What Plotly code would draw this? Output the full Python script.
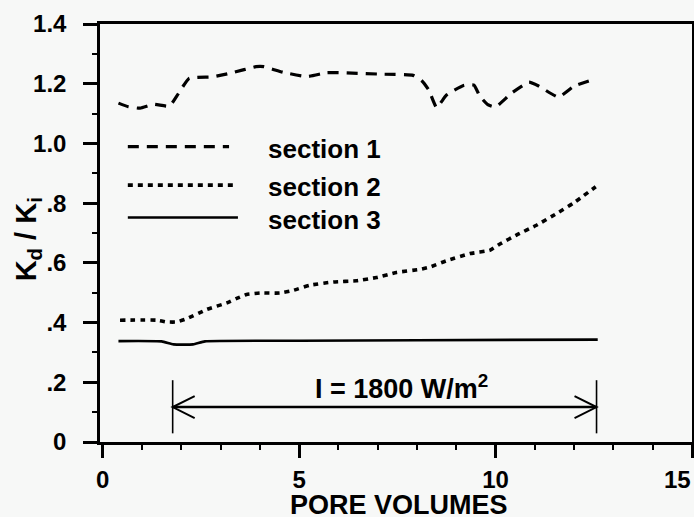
import plotly.graph_objects as go

# ---------------- data ----------------
sec1_x = [0.4, 0.65, 0.95, 1.3, 1.7, 1.9, 2.2, 2.8, 3.3, 3.9, 4.1, 4.6, 5.2, 5.7, 6.0,
          7.1, 7.9, 8.12, 8.3, 8.5, 8.75, 9.2, 9.45, 9.6, 9.8, 10.0, 10.4, 10.85,
          11.1, 11.6, 12.0, 12.55]
sec1_y = [1.135, 1.123, 1.118, 1.131, 1.125, 1.162, 1.218, 1.223, 1.237, 1.257, 1.257,
          1.238, 1.224, 1.237, 1.237, 1.232, 1.228, 1.21, 1.179, 1.12, 1.162, 1.195,
          1.195, 1.158, 1.13, 1.122, 1.168, 1.205, 1.192, 1.155, 1.192, 1.217]

sec2_x = [0.44, 1.37, 1.63, 1.88, 2.14, 2.65, 3.16, 3.41, 3.66, 4.0, 4.51, 4.85, 5.27,
          5.87, 6.46, 6.97, 7.48, 8.07, 8.33, 8.75, 9.35, 9.85, 10.11, 10.53, 11.04,
          11.55, 11.97, 12.55]
sec2_y = [0.408, 0.408, 0.402, 0.402, 0.413, 0.444, 0.466, 0.481, 0.494, 0.499, 0.499,
          0.508, 0.525, 0.536, 0.540, 0.551, 0.568, 0.578, 0.586, 0.607, 0.631, 0.642,
          0.663, 0.693, 0.726, 0.765, 0.799, 0.855]

sec3_x = [0.4, 1.5, 1.8, 2.3, 2.6, 5.0, 8.0, 12.6]
sec3_y = [0.338, 0.337, 0.327, 0.327, 0.337, 0.339, 0.341, 0.343]

series_names = ["section 1", "section 2", "section 3"]

x_tickvals = [0, 5, 10, 15]
x_ticktext = ["0", "5", "10", "15"]
y_tickvals = [0, 0.2, 0.4, 0.6, 0.8, 1.0, 1.2, 1.4]
y_ticktext = ["0", ".2", ".4", ".6", ".8", "1.0", "1.2", "1.4"]

# irradiation period annotation (pore volumes) and label
heat_start, heat_end, heat_level = 1.78, 12.57, 0.117
heat_label = "I = 1800 W/m<sup>2</sup>"

x_title = "PORE VOLUMES"
y_title = "K<sub>d</sub> / K<sub>i</sub>"

# ---------------- styling ----------------
BG = "#f7f8f7"
FONT = "Liberation Sans, Arial, Helvetica, sans-serif"
dash_styles = ["11px,8px", "5px,5px", "solid"]
widths = [3.2, 3.6, 2.6]
bold = lambda s: dict(family=FONT, size=s, color="black", weight="bold")

fig = go.Figure()
for xs, ys, name, d, w in zip([sec1_x, sec2_x, sec3_x], [sec1_y, sec2_y, sec3_y],
                              series_names, dash_styles, widths):
    fig.add_trace(go.Scatter(x=xs, y=ys, mode="lines", name=name, showlegend=False,
                             line=dict(color="black", width=w, dash=d, shape="spline",
                                       smoothing=0.4)))

# manual legend (long sample lines as in the original)
leg_x0 = 0.047
leg_x1 = [0.218, 0.225, 0.233]
leg_y = [0.7065, 0.6145, 0.537]
leg_text_y = [0.700, 0.610, 0.532]
for i, name in enumerate(series_names):
    fig.add_shape(type="line", xref="paper", yref="paper", x0=leg_x0, x1=leg_x1[i],
                  y0=leg_y[i], y1=leg_y[i],
                  line=dict(color="black", width=widths[i], dash=dash_styles[i]))
    fig.add_annotation(xref="paper", yref="paper", x=0.28, y=leg_text_y[i], text=name,
                       showarrow=False, xanchor="left", yanchor="middle", font=bold(26))

# double arrow for the irradiation period
fig.add_shape(type="line", xref="x", yref="y", x0=heat_start, x1=heat_end,
              y0=heat_level, y1=heat_level, line=dict(color="black", width=2.4))
for xv in (heat_start, heat_end):
    fig.add_shape(type="line", xref="x", yref="y", x0=xv, x1=xv,
                  y0=0.029, y1=0.207, line=dict(color="black", width=1.6))
fig.add_shape(type="path", xref="x", yref="y", xsizemode="pixel", ysizemode="pixel",
              xanchor=heat_start, yanchor=heat_level,
              path="M 22,11 L 0,0 L 22,-11", line=dict(color="black", width=2))
fig.add_shape(type="path", xref="x", yref="y", xsizemode="pixel", ysizemode="pixel",
              xanchor=heat_end, yanchor=heat_level,
              path="M -22,11 L 0,0 L -22,-11", line=dict(color="black", width=2))
fig.add_annotation(xref="x", yref="y", x=7.6, y=0.184, text=heat_label, showarrow=False,
                   xanchor="center", yanchor="middle", font=bold(27))

# axis titles as annotations (placed tighter than plotly's title standoff allows)
fig.add_annotation(xref="paper", yref="paper", x=-0.156, y=0.484, text=y_title,
                   showarrow=False, textangle=-90, xanchor="left", yanchor="middle",
                   font=bold(29))
fig.add_annotation(xref="paper", yref="paper", x=0.505, y=-0.150, text=x_title,
                   showarrow=False, xanchor="center", yanchor="middle", font=bold(27))

# last x tick label is right-aligned to the frame edge, as in the original
fig.add_annotation(xref="x", yref="paper", x=x_tickvals[-1], y=-0.089,
                   text=x_ticktext[-1], showarrow=False, xanchor="right",
                   yanchor="middle", xshift=1, font=bold(24))

axis_common = dict(showline=True, linecolor="black", linewidth=2.5, mirror=True,
                   ticks="outside", tickcolor="black", tickwidth=2.5, showgrid=False,
                   zeroline=False, automargin=False, tickfont=bold(24))

fig.update_xaxes(range=[-0.07, 15], tickvals=x_tickvals,
                 ticktext=x_ticktext[:-1] + [""],
                 ticklen=13, ticklabelstandoff=1,
                 minor=dict(dtick=1, ticklen=5, tickcolor="black", tickwidth=2,
                            ticks="outside"),
                 **axis_common)
fig.update_yaxes(range=[0, 1.4], tickvals=y_tickvals, ticktext=y_ticktext,
                 ticklen=14, ticklabelstandoff=12,
                 minor=dict(dtick=0.1, ticklen=5, tickcolor="black", tickwidth=2,
                            ticks="outside"),
                 **axis_common)

fig.update_layout(width=694, height=517, margin=dict(l=100, r=2, t=24, b=75),
                  paper_bgcolor=BG, plot_bgcolor=BG, showlegend=False)

fig.write_html("out.html")
